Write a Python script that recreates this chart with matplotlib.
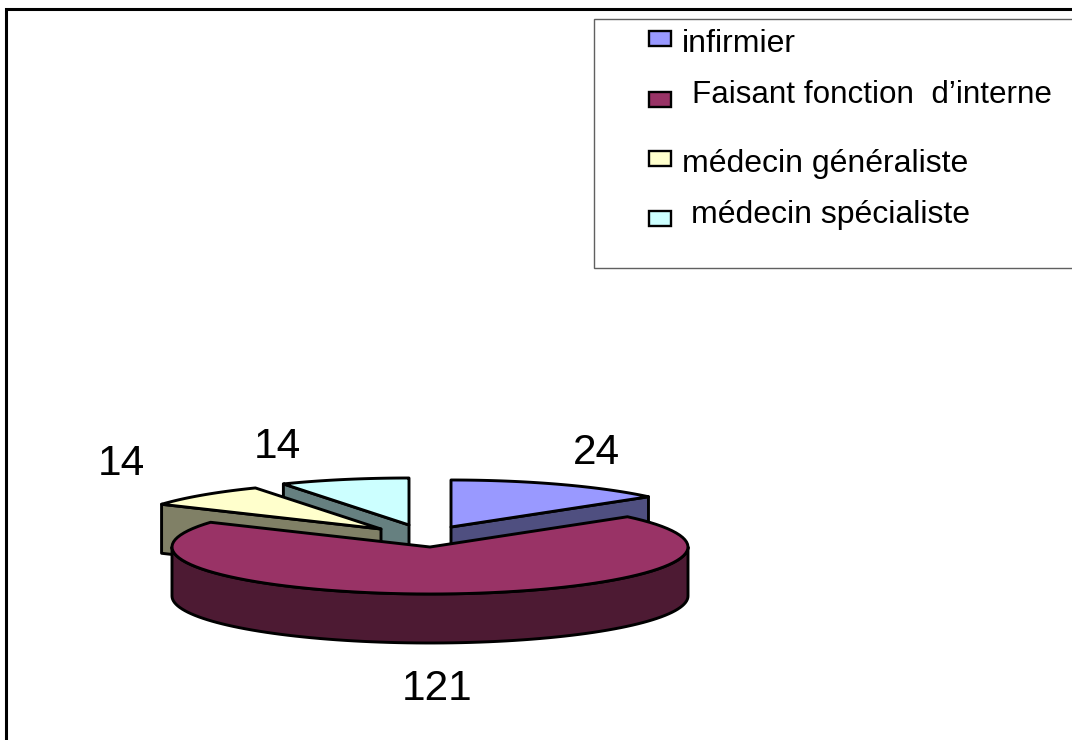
import numpy as np
import matplotlib
matplotlib.use("Agg")
import matplotlib.pyplot as plt
from matplotlib.patches import Polygon, Rectangle

plt.rcParams['font.family'] = ['Liberation Sans', 'DejaVu Sans']

categories = ["infirmier", "Faisant fonction  d\u2019interne", "médecin généraliste", "médecin spécialiste"]
values = [24, 121, 14, 14]
top_colors = ["#9999FF", "#993366", "#FFFFCC", "#CCFFFF"]
side_colors = ["#4F4F80", "#4D1A33", "#808066", "#668080"]

# geometry in reference pixels
A, B, DEPTH = 258, 47, 49
apexes = [(451, 527), (430, 547), (381, 529), (409, 525)]
label_pos = [(596, 464), (437, 700), (121, 475), (277, 458)]
swatch_y = [31, 91.5, 150.5, 210.5]
text_xy = [(682, 52), (692, 103), (682, 172), (691, 223)]
legend_sizes = [23, 22.6, 23, 23]

fig = plt.figure(figsize=(10.72, 7.40), dpi=100)
ax = fig.add_axes([0, 0, 1, 1])
ax.set_xlim(0, 1072)
ax.set_ylim(740, 0)
ax.axis('off')

# outer frame
ax.plot([5.5, 5.5, 1072], [740, 9.3, 9.3], color='black', lw=2.2, solid_joinstyle='miter')

# legend
ax.add_patch(Rectangle((594, 19), 490, 248.5, fc='white', ec='#606060', lw=1))
for i, cat in enumerate(categories):
    ax.add_patch(Rectangle((649, swatch_y[i]), 21.5, 15, fc=top_colors[i], ec='black', lw=1.7))
    ax.text(text_xy[i][0], text_xy[i][1], cat, fontsize=legend_sizes[i],
            va='baseline', ha='left', color='black')

def pt(c, a_deg, dy=0):
    t = np.radians(a_deg)
    return c[0] + A * np.sin(t), c[1] - B * np.cos(t) + dy

fractions = np.cumsum([0] + values) / sum(values) * 360
kw = dict(ec='black', lw=2.1, joinstyle='round')

def arc(c, a0, a1, dy=0):
    aa = np.linspace(a0, a1, 90)
    return np.array([pt(c, x, dy) for x in aa])

def side_face(i, angle):
    c = apexes[i]
    p = pt(c, angle)
    ax.add_patch(Polygon([c, p, (p[0], p[1] + DEPTH), (c[0], c[1] + DEPTH)], fc=side_colors[i], **kw))

def top_face(i):
    c = apexes[i]
    pts = np.vstack([[c], arc(c, fractions[i], fractions[i + 1])])
    ax.add_patch(Polygon(pts, fc=top_colors[i], **kw))

# back slices
side_face(3, fractions[3])
top_face(3)
side_face(2, fractions[2])
top_face(2)
side_face(0, fractions[1])
top_face(0)

# front slice: rim then top
c = apexes[1]
lo, hi = 90, 270
rim = np.vstack([arc(c, lo, hi), arc(c, hi, lo, DEPTH)])
ax.add_patch(Polygon(rim, fc=side_colors[1], **kw))
top_face(1)

for (x, y), v in zip(label_pos, values):
    ax.text(x, y, str(v), fontsize=30.5, ha='center', va='baseline', color='black')

fig.savefig("out.png", dpi=100)
